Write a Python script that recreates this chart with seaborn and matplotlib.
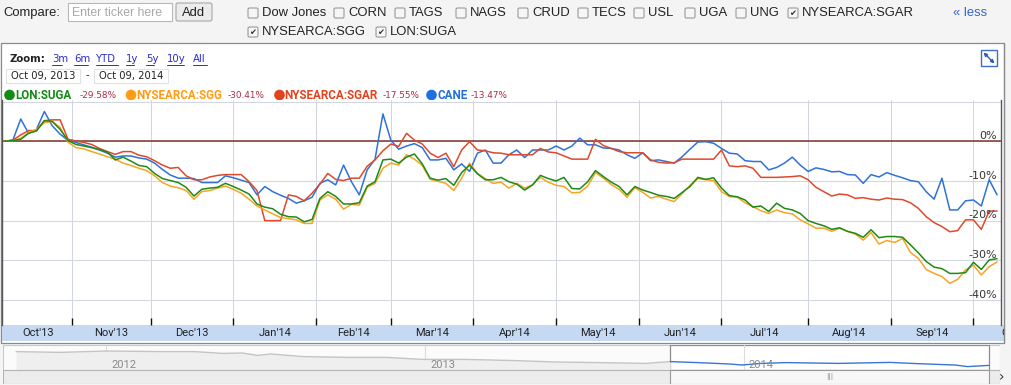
"""
Google-Finance style comparison chart: sugar ETFs, Oct 09 2013 - Oct 09 2014.
Percent change vs first session, plus the header, legend and navigator strip.
"""
import numpy as np
import pandas as pd
import seaborn as sns
import matplotlib.pyplot as plt
import matplotlib.dates as mdates
from matplotlib.patches import Rectangle, FancyBboxPatch, Circle
from matplotlib.transforms import blended_transform_factory, offset_copy

# --- data -------------------------------------------------------------------
US_HOLIDAYS = ['2013-11-28', '2013-12-25', '2014-01-01', '2014-01-20', '2014-02-17',
               '2014-04-18', '2014-05-26', '2014-07-04', '2014-09-01']

TICKERS = ['LON:SUGA', 'NYSEARCA:SGG', 'NYSEARCA:SGAR', 'CANE']
FINAL_CHANGE = ['-29.58%', '-30.41%', '-17.55%', '-13.47%']

# % change, read every 2nd trading session (session 0, 2, 4, ... 252)
cane = [0.0, 0.3, 5.6, 2.0, 3.0, 7.5, 3.9, 1.8, 0.2, -0.3,
        -0.9, -1.5, -2.2, -3.0, -4.0, -3.7, -3.7, -4.2, -4.5, -5.5,
        -7.1, -8.5, -9.3, -9.3, -9.4, -10.4, -10.4, -10.4, -8.7, -9.2,
        -9.8, -10.4, -13.5, -11.4, -12.7, -13.6, -14.4, -15.6, -15.0, -14.1,
        -10.6, -9.7, -11.0, -6.0, -10.2, -13.5, -7.2, -4.5, 6.9, 0.3,
        -2.0, -1.2, -0.6, -1.6, -4.7, -4.7, -4.3, -7.2, -5.7, -7.6,
        -3.0, -2.2, -5.5, -5.5, -3.4, -2.2, -4.1, -2.2, -2.2, -2.2,
        -1.2, -2.2, -1.2, 0.8, -0.9, -0.9, -1.7, -1.8, -2.2, -3.4,
        -4.3, -2.9, -4.9, -4.7, -5.1, -5.5, -3.9, -2.0, -0.2, -0.1,
        -0.5, -1.8, -3.0, -3.2, -4.9, -5.1, -5.1, -7.2, -6.6, -5.5,
        -4.0, -6.0, -7.6, -6.7, -7.1, -7.7, -7.6, -8.4, -8.5, -10.6,
        -8.4, -9.0, -7.9, -8.6, -9.2, -9.9, -10.2, -12.7, -14.6, -9.3,
        -17.3, -17.3, -15.0, -14.8, -16.3, -9.7, -13.5]

sgar = [0.0, 0.3, 1.6, 2.7, 2.7, 5.2, 5.4, 5.4, 0.5, 0.1,
        -0.3, -0.8, -1.8, -2.6, -3.3, -2.6, -2.6, -3.5, -3.9, -4.9,
        -6.0, -6.8, -6.6, -8.7, -9.7, -9.7, -9.0, -8.6, -8.4, -8.4,
        -8.4, -10.2, -12.4, -20.0, -20.0, -20.0, -13.5, -13.9, -15.0, -13.1,
        -10.8, -8.1, -9.6, -9.9, -9.3, -9.3, -6.3, -4.7, -2.4, -0.7,
        -1.3, 2.0, 0.3, -0.7, -3.0, -4.1, -3.0, -6.4, -2.2, -0.1,
        -2.2, -2.4, -2.9, -3.0, -3.4, -3.4, -3.4, -3.4, -1.8, -2.7,
        -2.9, -3.7, -4.5, -4.5, -4.5, 0.5, -1.1, -1.8, -2.6, -2.9,
        -2.9, -2.9, -4.7, -5.3, -5.5, -5.4, -4.5, -4.5, -4.5, -4.5,
        -4.5, -2.2, -6.2, -6.4, -6.2, -6.8, -9.1, -9.1, -9.1, -9.0,
        -8.9, -8.7, -9.7, -11.6, -12.7, -13.8, -13.3, -13.5, -14.4, -14.2,
        -14.6, -14.8, -14.3, -14.6, -14.7, -15.5, -16.9, -19.0, -20.5, -21.5,
        -22.8, -22.5, -19.8, -19.8, -22.2, -17.6, -17.6]

suga = [0.0, 0.2, 0.5, 2.0, 2.6, 5.2, 5.0, 3.0, 0.2, -0.8,
        -1.2, -1.6, -2.1, -2.7, -4.7, -4.0, -5.0, -6.1, -6.4, -8.1,
        -9.4, -9.9, -10.4, -11.6, -13.8, -12.1, -11.8, -11.6, -10.6, -11.4,
        -12.3, -13.3, -15.8, -16.6, -17.0, -18.4, -19.0, -19.1, -20.3, -19.7,
        -14.4, -12.7, -13.9, -15.8, -15.8, -15.5, -11.3, -10.2, -4.7, -4.5,
        -5.5, -4.0, -3.2, -5.7, -9.3, -9.8, -9.4, -11.1, -7.9, -6.0,
        -8.2, -9.7, -9.7, -9.1, -10.2, -10.8, -12.3, -11.0, -8.6, -9.4,
        -10.0, -9.1, -11.9, -12.0, -10.2, -7.4, -8.9, -10.3, -11.4, -13.5,
        -11.4, -12.3, -12.9, -13.6, -13.9, -14.4, -12.9, -11.4, -9.1, -9.6,
        -9.2, -11.8, -13.7, -14.0, -14.8, -16.6, -16.3, -17.7, -15.6, -16.9,
        -17.3, -18.2, -20.0, -20.7, -21.3, -22.2, -21.8, -22.7, -23.2, -24.2,
        -22.3, -24.3, -24.0, -24.0, -24.2, -26.1, -28.1, -30.3, -31.7, -32.1,
        -33.3, -33.3, -33.1, -30.5, -32.3, -29.9, -29.6]

sgg = [0.0, 0.2, 0.7, 2.2, 3.0, 4.7, 5.0, 3.5, -0.2, -1.6,
       -1.9, -2.6, -3.2, -3.9, -4.5, -5.5, -6.1, -6.8, -7.4, -8.7,
       -10.4, -11.3, -11.7, -12.4, -14.6, -12.7, -12.4, -11.8, -11.3, -12.1,
       -13.1, -14.6, -16.3, -17.3, -18.3, -19.2, -19.5, -19.8, -20.7, -20.7,
       -14.8, -13.5, -14.6, -17.1, -15.9, -16.1, -11.6, -10.6, -6.8, -5.5,
       -6.0, -3.4, -4.5, -6.1, -9.6, -10.1, -10.6, -12.4, -9.3, -5.5,
       -8.1, -9.4, -10.6, -10.3, -11.8, -10.6, -11.8, -11.0, -9.1, -10.3,
       -11.1, -11.4, -13.0, -12.9, -11.3, -7.9, -9.3, -10.9, -12.1, -14.1,
       -11.7, -12.9, -14.3, -13.9, -14.6, -15.2, -13.2, -11.1, -9.4, -9.7,
       -9.9, -12.7, -13.9, -14.1, -15.5, -16.5, -17.5, -18.2, -17.3, -18.0,
       -18.3, -19.8, -20.8, -21.9, -21.9, -22.7, -21.9, -22.7, -23.4, -24.9,
       -23.0, -25.9, -25.0, -25.5, -24.5, -28.0, -29.5, -32.3, -33.3, -34.1,
       -35.8, -34.8, -32.4, -31.2, -33.7, -31.6, -30.4]

MONTH_LABELS = ["Oct'13", "Nov'13", "Dec'13", "Jan'14", "Feb'14", "Mar'14", "Apr'14",
                "May'14", "Jun'14", "Jul'14", "Aug'14", "Sep'14", "Oct'14"]
Y_GRID = [10, 0, -10, -20, -30, -40]
Y_LABELS = ['0%', '-10%', '-20%', '-30%', '-40%']

# navigator overview (CANE price, longer history)
nav_dates = ['2011-09-20', '2011-11-09', '2012-01-02', '2012-03-03', '2012-04-11', '2012-05-14',
             '2012-06-05', '2012-06-23', '2012-07-08', '2012-08-14', '2012-10-05', '2012-11-18',
             '2012-12-29', '2013-02-16', '2013-04-15', '2013-05-30', '2013-07-20', '2013-09-10',
             '2013-10-09', '2013-11-09', '2013-12-16', '2013-12-30', '2014-01-21', '2014-02-19',
             '2014-04-20', '2014-06-18', '2014-07-18', '2014-08-31', '2014-09-15', '2014-10-09']
nav_price = [19.7, 19.3, 20.0, 19.7, 19.7, 18.8, 19.0, 17.8, 18.5, 17.2, 16.8, 16.8,
             15.8, 15.8, 15.2, 14.5, 14.2, 13.8, 14.7, 14.2, 13.5, 13.0, 13.8, 14.2,
             13.8, 14.3, 13.7, 13.0, 12.2, 12.8]
NAV_YEARS = ['2012', '2013', '2014']

COLORS = {'LON:SUGA': '#1f8a17', 'NYSEARCA:SGG': '#f6a425',
          'NYSEARCA:SGAR': '#dc4a2b', 'CANE': '#2f72d6'}
DOT_COLORS = {'LON:SUGA': '#138a13', 'NYSEARCA:SGG': '#ff9b14',
              'NYSEARCA:SGAR': '#e0431d', 'CANE': '#1e6fe0'}

# --- prep -------------------------------------------------------------------
sessions = pd.bdate_range('2013-10-09', '2014-10-09', freq='C', holidays=US_HOLIDAYS)
day_no = np.arange(len(sessions))[::2]
month_start = [0] + [i for i in range(1, len(sessions)) if sessions[i].month != sessions[i - 1].month]
month_end = month_start[1:] + [month_start[-1] + 22]
month_mid = [(a + b) / 2 for a, b in zip(month_start, month_end)]

df = pd.DataFrame({'day': day_no, 'CANE': cane, 'NYSEARCA:SGAR': sgar,
                   'NYSEARCA:SGG': sgg, 'LON:SUGA': suga})
long_df = df.melt('day', var_name='ticker', value_name='change')

nav = pd.DataFrame({'date': pd.to_datetime(nav_dates), 'price': nav_price})
sel_start, sel_end = pd.Timestamp('2013-10-09'), pd.Timestamp('2014-10-09')

# --- figure -----------------------------------------------------------------
sns.set_theme(style='white')
plt.rcParams['font.family'] = ['DejaVu Sans']
W, H = 1011, 385
fig = plt.figure(figsize=(W / 100, H / 100), dpi=100)
fig.patch.set_facecolor('#f4f4f4')

NARROW = ['Roboto', 'DejaVu Sans']
ARIAL = ['Liberation Sans', 'DejaVu Sans']

bg = fig.add_axes([0, 0, 1, 1])
bg.set_xlim(0, W)
bg.set_ylim(H, 0)
bg.axis('off')

# header
bg.add_patch(Rectangle((0, 0), W, 42, color='#f4f4f4', zorder=0))
bg.text(3, 13, 'Compare:', family=ARIAL, fontsize=9.4, va='center', color='#222')
bg.add_patch(Rectangle((68, 3), 104, 18, facecolor='white', edgecolor='#b8b8b8', lw=0.8))
bg.text(72, 12.5, 'Enter ticker here', family=ARIAL, fontsize=8.8, va='center', color='#a8a8a8')
bg.add_patch(FancyBboxPatch((176, 3), 36, 18, boxstyle='round,pad=0,rounding_size=2',
                            facecolor='#ececec', edgecolor='#a8a8a8', lw=0.8))
bg.text(194, 12.5, 'Add', family=ARIAL, fontsize=9.4, ha='center', va='center', color='#222')

checks = [('Dow Jones', 262, 13, False), ('CORN', 348, 13, False), ('TAGS', 409, 13, False),
          ('NAGS', 470, 13, False), ('CRUD', 532, 13, False), ('TECS', 592, 13, False),
          ('USL', 648, 13, False), ('UGA', 699, 13, False), ('UNG', 750, 13, False),
          ('NYSEARCA:SGAR', 802, 13, True), ('NYSEARCA:SGG', 262, 32, True),
          ('LON:SUGA', 390, 32, True)]
for label, x, y, on in checks:
    bg.add_patch(FancyBboxPatch((x - 14, y - 5), 10, 10, boxstyle='round,pad=0,rounding_size=1.5',
                                facecolor='#f6f6f6', edgecolor='#9a9a9a', lw=0.8))
    if on:
        bg.text(x - 9, y + 0.5, '\u2714', fontsize=6, ha='center', va='center', color='#333')
    bg.text(x, y, label, family=ARIAL, fontsize=9.4, va='center', color='#222')
bg.text(953, 13, '\u00ab less', family=ARIAL, fontsize=9.4, va='center', color='#3366cc')

# chart panel
bg.add_patch(Rectangle((1, 43), 1003, 300, facecolor='white', edgecolor='#8a8a8a', lw=0.9))
bg.text(9, 59, 'Zoom:', fontsize=7.3, fontweight='bold', va='center', color='#222')
links = [('3m', 52), ('6m', 74), ('YTD', 96), ('1y', 126), ('5y', 146), ('10y', 167), ('All', 193)]
for txt, x in links:
    bg.text(x, 59, txt, fontsize=7.3, va='center', color='#2c2ccc')
for x0, x1 in [(52, 62), (74, 88), (96, 118), (126, 134), (146, 154), (167, 184), (193, 207)]:
    bg.plot([x0, x1], [64.5, 64.5], color='#2c2ccc', lw=0.7)

for x0, txt in [(6, 'Oct 09, 2013'), (94, 'Oct 09, 2014')]:
    bg.add_patch(Rectangle((x0, 69), 74, 13.5, facecolor='white', edgecolor='#e2e2e2', lw=0.8))
    bg.text(x0 + 37, 75.8, txt, fontsize=7.2, ha='center', va='center', color='#222')
bg.text(87.5, 75.5, '-', fontsize=7.2, ha='center', va='center', color='#222')

legend_x = [(9.5, 15, 80), (131, 136, 228), (279.5, 284, 383), (431.5, 437, 471)]
for (cx, nx, px), tk, chg in zip(legend_x, TICKERS, FINAL_CHANGE):
    bg.add_patch(Circle((cx, 95), 4.6, color=DOT_COLORS[tk]))
    bg.text(nx, 95.5, tk, family=NARROW, fontsize=8.4, fontweight='bold',
            va='center', color=DOT_COLORS[tk])
    bg.text(px, 96, chg, fontsize=6.4, va='center', color='#b02a44')

# expand icon
bg.add_patch(Rectangle((981, 50), 16, 16, facecolor='white', edgecolor='#3d6fc4', lw=1.0))
bg.annotate('', xy=(994.5, 63.5), xytext=(983.5, 52.5),
            arrowprops=dict(arrowstyle='<|-|>', color='#2a5bb8', lw=1.0,
                            mutation_scale=5, shrinkA=0, shrinkB=0))

# x-axis band
bg.add_patch(Rectangle((2, 325), 1002, 16, facecolor='#c5d9f3', edgecolor='none'))
bg.plot([1004, 1004], [43, 343], color='#8a8a8a', lw=0.9)

# --- main chart -------------------------------------------------------------
ax = fig.add_axes([2 / W, (H - 325) / H, 999 / W, 225 / H])
ax.set_facecolor('white')

sns.lineplot(data=long_df, x='day', y='change', hue='ticker',
             hue_order=['CANE', 'NYSEARCA:SGAR', 'NYSEARCA:SGG', 'LON:SUGA'],
             palette=COLORS, linewidth=1.1, legend=False, estimator=None, ax=ax)
ax.axhline(0, color='#7d3428', lw=1.1, zorder=1.5)

ax.set_yticks(Y_GRID)
ax.yaxis.set_ticklabels([])
ax.tick_params(axis='y', length=0)
ax.set_xticks(month_start[1:])
ax.set_xticks(month_mid[:-1], minor=True)
ax.set_xticklabels([], minor=False)
ax.set_xticklabels(MONTH_LABELS[:-1], minor=True, family=NARROW, fontsize=8.0, color='#222')
ax.tick_params(axis='x', which='major', direction='in', length=5, width=1, color='#111',
               bottom=True)
ax.tick_params(axis='x', which='minor', length=0, pad=2.4)
ax.grid(True, axis='both', which='major', color='#d3d6e0', lw=0.75)
ax.set_axisbelow(True)
ax.set_xlim(-0.76, 253.0)
ax.set_ylim(-46.3, 10.4)
ax.set_xlabel('')
ax.set_ylabel('')
for side in ['top', 'bottom']:
    ax.spines[side].set_visible(False)
for side in ['left', 'right']:
    ax.spines[side].set_color('#555')
    ax.spines[side].set_linewidth(1.0)

# the running month sits past the right edge and is cut by the panel
clip = Rectangle((2, 300), 1002, 60, transform=bg.transData, visible=False)
bg.add_patch(clip)
xtrans = blended_transform_factory(ax.transData, ax.transAxes)
last = ax.text(month_mid[-1], 0.0, MONTH_LABELS[-1],
               transform=offset_copy(xtrans, fig=fig, y=-2.4, units='points'),
               family=NARROW, fontsize=8.0, color='#222', ha='center', va='top')
last.set_clip_on(True)
last.set_clip_path(clip)

ytrans = blended_transform_factory(ax.transAxes, ax.transData)
for v, txt in zip(Y_GRID[1:], Y_LABELS):
    ax.annotate(txt, xy=(1, v), xycoords=ytrans, xytext=(-3, 1.6), textcoords='offset points',
                ha='right', va='baseline', fontsize=8, color='#333')

# --- navigator --------------------------------------------------------------
nv = fig.add_axes([3 / W, (H - 384) / H, 997 / W, 39 / H])
nv.set_facecolor('#fbfbfb')
nv.set_xlim(pd.Timestamp('2011-09-05'), pd.Timestamp('2014-10-22'))
nv.set_ylim(3.5, 23)
ntrans = blended_transform_factory(nv.transData, nv.transAxes)
sb = 14 / 39

nv.add_patch(Rectangle((0, sb), 1, 1 - sb, transform=nv.transAxes,
                       facecolor='#fbfbfb', edgecolor='#c8c8c8', lw=0.8, zorder=0))
x0n, x1n = mdates.date2num(sel_start), mdates.date2num(sel_end)
nv.add_patch(Rectangle((x0n, sb), x1n - x0n, 1 - sb, transform=ntrans,
                       facecolor='white', edgecolor='#8c8c8c', lw=0.9, zorder=0.5))
for yr in NAV_YEARS:
    d = pd.Timestamp(f'{yr}-01-01')
    nv.axvline(d, ymin=sb, ymax=1, color='#dcdcdc', lw=0.8, zorder=0.6)
    nv.text(d + pd.Timedelta(days=6), 12.8, yr, family=NARROW, fontsize=8.0,
            color='#8a8a8a', va='center', zorder=3)

old = nav[nav['date'] <= sel_start]
new = nav[nav['date'] >= sel_start]
nv.fill_between(old['date'], 10.5, old['price'], color='#efefef', lw=0, zorder=1)
sns.lineplot(data=old, x='date', y='price', color='#c4c4c4', lw=1.0, ax=nv, zorder=2)
sns.lineplot(data=new, x='date', y='price', color='#3a76d2', lw=1.0, ax=nv, zorder=2)

# scrollbar
nv.add_patch(Rectangle((0, 0), 1, sb, transform=nv.transAxes,
                       facecolor='#ececec', edgecolor='#b4b4b4', lw=0.8, zorder=4))
nv.add_patch(Rectangle((x0n, 0), x1n - x0n, sb, transform=ntrans,
                       facecolor='#f7f7f7', edgecolor='#9a9a9a', lw=0.8, zorder=5))
nv.text(mdates.num2date((x0n + x1n) / 2), sb / 2, '|||', transform=ntrans, fontsize=5,
        ha='center', va='center', color='#888', zorder=6)
nv.set_xlabel('')
nv.set_ylabel('')
nv.set_xticks([])
nv.set_yticks([])
for s in nv.spines.values():
    s.set_visible(False)

bg.text(5, 377, '\u2039', fontsize=10, ha='center', va='center', color='#333', zorder=10)
bg.text(1002, 377, '\u203a', fontsize=10, ha='center', va='center', color='#333', zorder=10)

fig.savefig('out.png', dpi=100, facecolor=fig.get_facecolor())
